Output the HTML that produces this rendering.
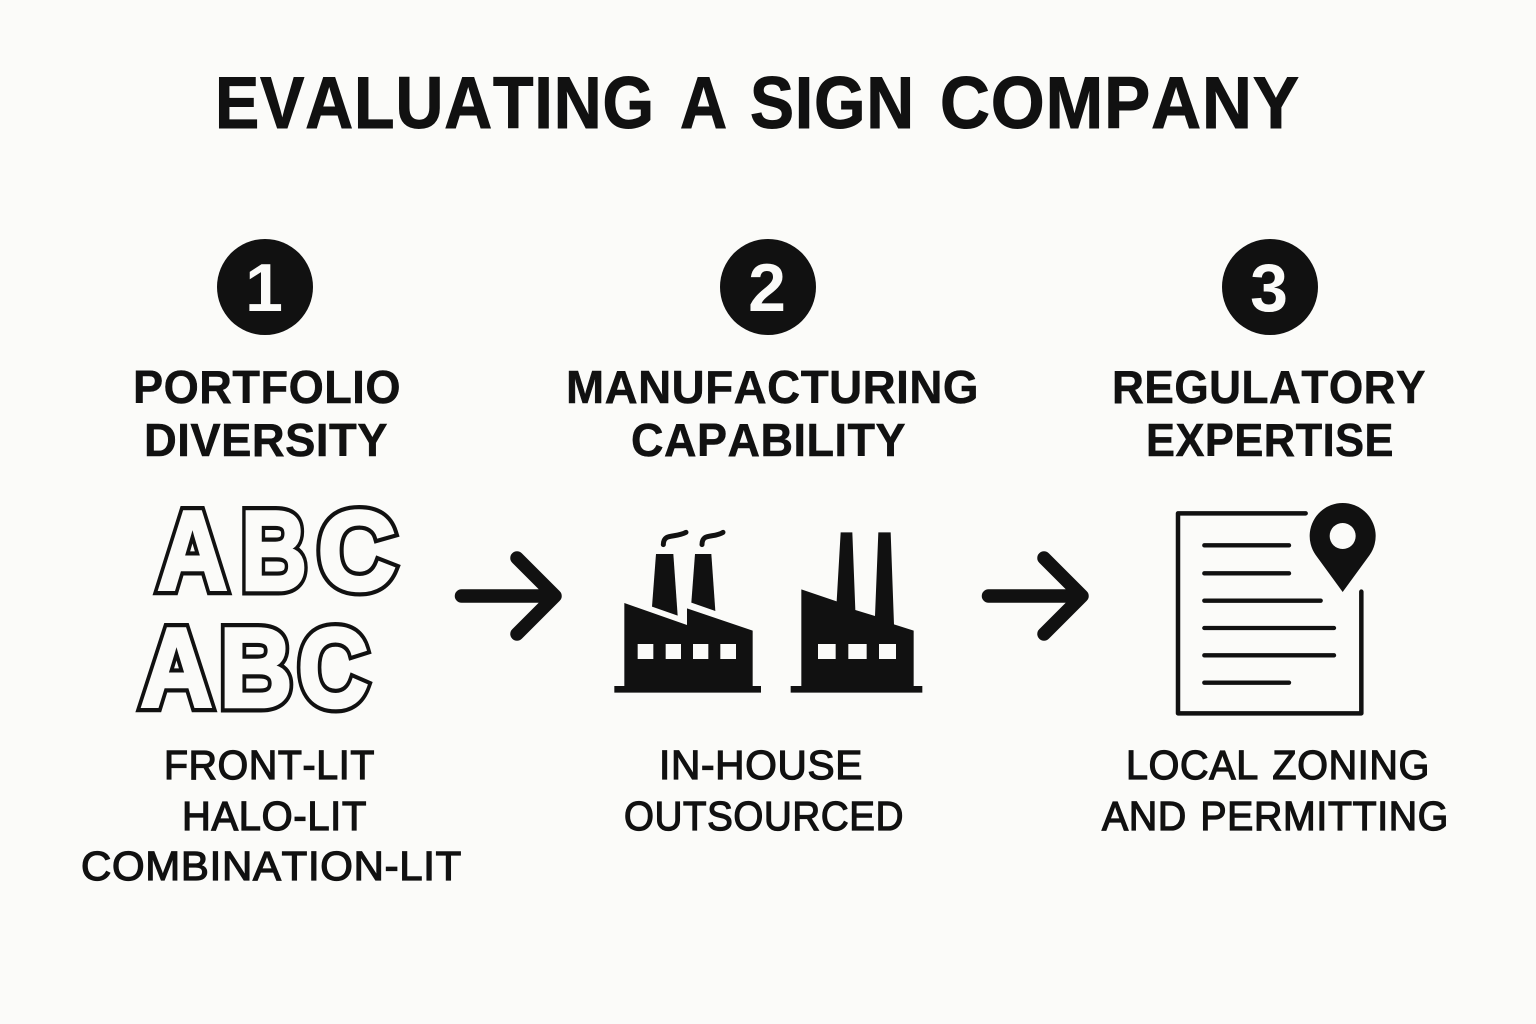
<!DOCTYPE html>
<html>
<head>
<meta charset="utf-8">
<style>
html,body{margin:0;padding:0;background:#fbfbf9;}
svg{display:block;}
text{font-family:"Liberation Sans",sans-serif;fill:#111;font-kerning:none;}
.t{font-weight:700;font-size:73px;letter-spacing:1px;stroke:#111;stroke-width:1px;}
.h{font-weight:700;font-size:46.5px;letter-spacing:.5px;stroke:#111;stroke-width:.5px;}
.b{font-weight:400;font-size:41px;stroke:#111;stroke-width:1.3px;letter-spacing:.7px;word-spacing:2px;}
.n{font-weight:700;font-size:68px;fill:#fbfbf9;text-anchor:middle;}
.ok{font-weight:700;font-size:112px;fill:#111;stroke:#111;stroke-width:12px;stroke-linejoin:miter;stroke-miterlimit:3;}
.ow{font-weight:700;font-size:112px;fill:#fbfbf9;stroke:#fbfbf9;stroke-width:3.6px;stroke-linejoin:miter;stroke-miterlimit:3;}
</style>
</head>
<body>
<svg width="1536" height="1024" viewBox="0 0 1536 1024" xmlns="http://www.w3.org/2000/svg">
<rect width="1536" height="1024" fill="#fbfbf9"/>

<text class="t" x="215" y="128" textLength="440" lengthAdjust="spacingAndGlyphs">EVALUATING</text>
<text class="t" x="680" y="128" textLength="48" lengthAdjust="spacingAndGlyphs">A</text>
<text class="t" x="750" y="128" textLength="165" lengthAdjust="spacingAndGlyphs">SIGN</text>
<text class="t" x="940" y="128" textLength="360" lengthAdjust="spacingAndGlyphs">COMPANY</text>

<circle cx="265" cy="287" r="48" fill="#111"/>
<circle cx="768" cy="287" r="48" fill="#111"/>
<circle cx="1270" cy="287" r="48" fill="#111"/>
<text class="n" x="264" y="311">1</text>
<text class="n" x="767" y="311">2</text>
<text class="n" x="1269" y="311">3</text>

<text class="h" x="133" y="403" textLength="268" lengthAdjust="spacingAndGlyphs">PORTFOLIO</text>
<text class="h" x="144" y="456" textLength="244" lengthAdjust="spacingAndGlyphs">DIVERSITY</text>
<text class="h" x="566" y="403" textLength="413" lengthAdjust="spacingAndGlyphs">MANUFACTURING</text>
<text class="h" x="631" y="456" textLength="275" lengthAdjust="spacingAndGlyphs">CAPABILITY</text>
<text class="h" x="1112" y="403" textLength="314" lengthAdjust="spacingAndGlyphs">REGULATORY</text>
<text class="h" x="1146" y="456" textLength="248" lengthAdjust="spacingAndGlyphs">EXPERTISE</text>

<!-- ABC outlined rows: thick dark stroke under a lighter inset copy -->
<g aria-hidden="true">
<text class="ok" x="157.500" y="589.500" textLength="70" lengthAdjust="spacingAndGlyphs">A</text>
<text class="ok" x="241" y="589.500" textLength="66" lengthAdjust="spacingAndGlyphs">B</text>
<text class="ok" x="317.600" y="589.500" textLength="78.500" lengthAdjust="spacingAndGlyphs">C</text>
<text class="ok" x="140.500" y="706.500" textLength="72" lengthAdjust="spacingAndGlyphs">A</text>
<text class="ok" x="219.500" y="706.500" textLength="73" lengthAdjust="spacingAndGlyphs">B</text>
<text class="ok" x="298" y="706.500" textLength="70.500" lengthAdjust="spacingAndGlyphs">C</text>
</g>
<text class="ow" x="157.500" y="589.500" textLength="70" lengthAdjust="spacingAndGlyphs">A</text>
<text class="ow" x="241" y="589.500" textLength="66" lengthAdjust="spacingAndGlyphs">B</text>
<text class="ow" x="317.600" y="589.500" textLength="78.500" lengthAdjust="spacingAndGlyphs">C</text>
<text class="ow" x="140.500" y="706.500" textLength="72" lengthAdjust="spacingAndGlyphs">A</text>
<text class="ow" x="219.500" y="706.500" textLength="73" lengthAdjust="spacingAndGlyphs">B</text>
<text class="ow" x="298" y="706.500" textLength="70.500" lengthAdjust="spacingAndGlyphs">C</text>

<!-- Arrows -->
<g fill="none" stroke="#111" stroke-width="13.5" stroke-linecap="round" stroke-linejoin="round">
<path d="M461.500,596H555M517,558L555,596L517,634"/>
<path d="M988.500,596H1082M1044,558L1082,596L1044,634"/>
</g>

<!-- Factories -->
<g transform="translate(600,510) scale(0.33333)">
<path fill="#111" d="M73,279L261,345V295L458,362V528H483V548H43V528H73Z"/>
<path fill="#111" d="M168,132H220L233,317L156,290Z"/>
<path fill="#111" d="M285,132H334L346,303L274,278Z"/>
<g fill="#fbfbf9">
<rect x="113" y="402" width="47" height="45"/>
<rect x="197" y="402" width="46" height="45"/>
<rect x="279" y="402" width="46" height="45"/>
<rect x="361" y="402" width="47" height="45"/>
</g>
<g fill="none" stroke="#111" stroke-width="15" stroke-linecap="round">
<path d="M190,104C190,68 225,85 258,67"/>
<path d="M306,104C306,68 340,85 369,67"/>
</g>
<path fill="#111" d="M604,238L710,274L722,67H757L766,300L825,318L835,67H872L882,343L941,362V528H967V548H572V528H604Z"/>
<g fill="#fbfbf9">
<rect x="654" y="402" width="53" height="45"/>
<rect x="745" y="402" width="55" height="45"/>
<rect x="837" y="402" width="51" height="45"/>
</g>
</g>

<!-- Document with pin -->
<g transform="translate(1160,490) scale(0.33333)">
<path fill="none" stroke="#111" stroke-width="13.500" stroke-linecap="round" stroke-linejoin="round" d="M437,70H54V670H604V305"/>
<g stroke="#111" stroke-width="13" stroke-linecap="round">
<line x1="133" y1="166" x2="387" y2="166"/>
<line x1="133" y1="250" x2="387" y2="250"/>
<line x1="133" y1="332" x2="482" y2="332"/>
<line x1="133" y1="414" x2="522" y2="414"/>
<line x1="133" y1="496" x2="522" y2="496"/>
<line x1="133" y1="578" x2="387" y2="578"/>
</g>
<path fill="#111" d="M548,306L467,195A99,99 0 1 1 629,195Z"/>
<circle cx="548" cy="138" r="39" fill="#fbfbf9"/>
</g>

<text class="b" x="164" y="779" textLength="211" lengthAdjust="spacingAndGlyphs">FRONT-LIT</text>
<text class="b" x="182" y="830" textLength="185" lengthAdjust="spacingAndGlyphs">HALO-LIT</text>
<text class="b" x="81" y="880" textLength="381" lengthAdjust="spacingAndGlyphs">COMBINATION-LIT</text>
<text class="b" x="659" y="779" textLength="204" lengthAdjust="spacingAndGlyphs">IN-HOUSE</text>
<text class="b" x="624" y="830" textLength="280" lengthAdjust="spacingAndGlyphs">OUTSOURCED</text>
<text class="b" x="1126" y="779" textLength="304" lengthAdjust="spacingAndGlyphs">LOCAL ZONING</text>
<text class="b" x="1102" y="830" textLength="347" lengthAdjust="spacingAndGlyphs">AND PERMITTING</text>
</svg>
</body>
</html>
